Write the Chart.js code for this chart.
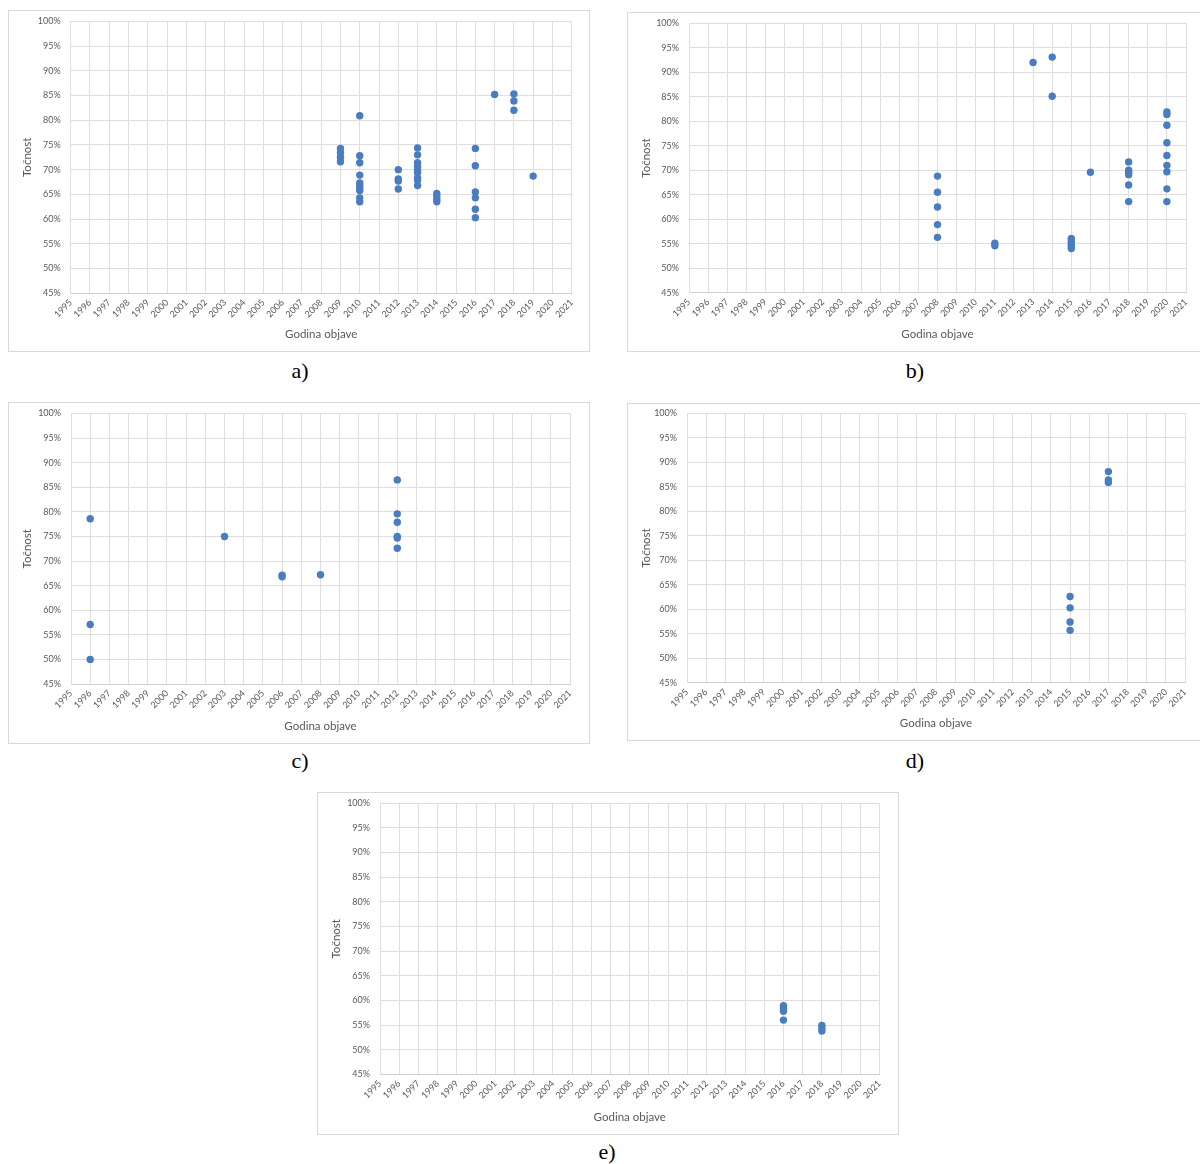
<!DOCTYPE html>
<html lang="hr">
<head>
<meta charset="UTF-8">
<title>Točnost po godini objave</title>
<style>
  body { margin: 0; background: #fff; width: 1200px; height: 1164px; position: relative; overflow: hidden; }
  .box { position: absolute; border: 1px solid #d9d9d9; box-sizing: border-box; }
  .box canvas { position: absolute; left: -1px; top: -1px; }
  .cap { position: absolute; width: 100px; text-align: center; font-family: "Liberation Serif", "Times New Roman", serif; font-size: 22px; color: #000; line-height: 24px; }
</style>
</head>
<body>
<div class="box" id="boxA"><canvas id="chartA"></canvas></div>
<div class="box" id="boxB"><canvas id="chartB"></canvas></div>
<div class="box" id="boxC"><canvas id="chartC"></canvas></div>
<div class="box" id="boxD"><canvas id="chartD"></canvas></div>
<div class="box" id="boxE"><canvas id="chartE"></canvas></div>
<div class="cap" style="left:250px; top:359px;">a)</div>
<div class="cap" style="left:865px; top:359px;">b)</div>
<div class="cap" style="left:250px; top:749px;">c)</div>
<div class="cap" style="left:865px; top:749px;">d)</div>
<div class="cap" style="left:557px; top:1140px;">e)</div>

<script src="https://cdn.jsdelivr.net/npm/chart.js@4.4.0/dist/chart.umd.min.js"></script>
<script>
    // tick labels shared by all five charts
    var yearTicks = [1995, 1996, 1997, 1998, 1999, 2000, 2001, 2002, 2003, 2004, 2005, 2006, 2007,
        2008, 2009, 2010, 2011, 2012, 2013, 2014, 2015, 2016, 2017, 2018, 2019, 2020, 2021];
    var pctTicks = [45, 50, 55, 60, 65, 70, 75, 80, 85, 90, 95, 100];

    // a)
    var yearsA = [2009, 2009, 2009, 2009,
        2010, 2010, 2010, 2010, 2010, 2010, 2010, 2010, 2010, 2010,
        2012, 2012, 2012, 2012,
        2013, 2013, 2013, 2013, 2013, 2013, 2013, 2013, 2013,
        2014, 2014, 2014, 2014,
        2016, 2016, 2016, 2016, 2016, 2016,
        2017, 2018, 2018, 2018, 2019];
    var accA = [74.3, 73.4, 72.5, 71.6,
        80.9, 72.8, 71.4, 68.9, 67.3, 66.8, 66.3, 65.8, 64.3, 63.5,
        70.0, 68.1, 67.7, 66.1,
        74.4, 73.0, 71.4, 70.6, 69.9, 69.4, 68.3, 67.9, 66.8,
        65.2, 64.6, 64.0, 63.5,
        74.3, 70.8, 65.5, 64.3, 62.0, 60.3,
        85.2, 85.3, 83.9, 82.0, 68.7];

    // b)
    var yearsB = [2008, 2008, 2008, 2008, 2008,
        2011, 2011, 2013, 2014, 2014,
        2015, 2015, 2015, 2015, 2015, 2016,
        2018, 2018, 2018, 2018, 2018, 2018,
        2020, 2020, 2020, 2020, 2020, 2020, 2020, 2020, 2020];
    var accB = [68.8, 65.5, 62.5, 58.9, 56.3,
        55.1, 54.6, 92.0, 93.1, 85.1,
        56.1, 55.5, 55.0, 54.5, 54.0, 69.6,
        71.7, 70.0, 69.6, 69.1, 67.0, 63.6,
        81.9, 81.4, 79.2, 75.6, 73.0, 71.0, 69.7, 66.2, 63.6];

    // c)
    var yearsC = [1996, 1996, 1996, 2003, 2006, 2006, 2008,
        2012, 2012, 2012, 2012, 2012, 2012];
    var accC = [78.6, 57.1, 50.0, 75.0, 67.1, 66.8, 67.2,
        86.5, 79.6, 77.9, 75.0, 74.7, 72.6];

    // d)
    var yearsD = [2015, 2015, 2015, 2015, 2017, 2017, 2017];
    var accD = [62.6, 60.3, 57.4, 55.7, 88.1, 86.4, 85.9];

    // e)
    var yearsE = [2016, 2016, 2016, 2016, 2018, 2018, 2018];
    var accE = [58.9, 58.4, 57.8, 56.0, 54.9, 54.4, 53.8];

    var dotColor = '#4a7dbf';
    var textColor = '#595959';
    var gridColor = '#dedede';
    var fontFamily = 'Lato, "Liberation Sans", sans-serif';

    // box = page position of the frame, plot = page position of the plot area
    function makeChart(id, xs, ys, box, plot) {
        var wrap = document.getElementById('box' + id);
        wrap.style.left = box.left + 'px';
        wrap.style.top = box.top + 'px';
        wrap.style.width = box.w + 'px';
        wrap.style.height = box.h + 'px';
        var canvas = document.getElementById('chart' + id);
        canvas.width = box.w;
        canvas.height = box.h;
        canvas.style.width = box.w + 'px';
        canvas.style.height = box.h + 'px';

        var points = xs.map(function (x, i) { return { x: x, y: ys[i] }; });

        return new Chart(canvas, {
            type: 'scatter',
            data: {
                datasets: [{
                    data: points,
                    backgroundColor: dotColor,
                    borderColor: dotColor,
                    borderWidth: 0,
                    pointRadius: 3.7,
                    pointHoverRadius: 3.7
                }]
            },
            options: {
                responsive: false,
                animation: false,
                events: [],
                layout: {
                    padding: { left: 0, top: plot.t - box.top, right: box.left + box.w - plot.r, bottom: 0 }
                },
                plugins: { legend: { display: false }, tooltip: { enabled: false } },
                scales: {
                    x: {
                        type: 'linear',
                        min: 1995,
                        max: 2021,
                        afterBuildTicks: function (axis) {
                            axis.ticks = yearTicks.map(function (v) { return { value: v }; });
                        },
                        afterFit: function (scale) { scale.height = box.top + box.h - plot.b; },
                        grid: { color: gridColor, drawTicks: false },
                        border: { color: '#d0d0d0' },
                        ticks: {
                            autoSkip: false,
                            minRotation: 45,
                            maxRotation: 45,
                            padding: 4,
                            color: textColor,
                            font: { family: fontFamily, size: 9 },
                            callback: function (v) { return String(v); }
                        },
                        title: {
                            display: true,
                            text: 'Godina objave',
                            color: textColor,
                            font: { family: fontFamily, size: 11.5 },
                            padding: { top: 0, bottom: 11 }
                        }
                    },
                    y: {
                        min: 45,
                        max: 100,
                        afterBuildTicks: function (axis) {
                            axis.ticks = pctTicks.map(function (v) { return { value: v }; });
                        },
                        afterFit: function (scale) {
                            scale.width = plot.l - box.left;
                            // tick padding would otherwise push the plot top down
                            scale.paddingTop = 0;
                            scale.paddingBottom = 0;
                        },
                        grid: { color: gridColor, drawTicks: false },
                        border: { color: gridColor },
                        ticks: {
                            padding: 10,
                            color: textColor,
                            font: { family: fontFamily, size: 9 },
                            callback: function (v) { return v + '%'; }
                        },
                        title: {
                            display: true,
                            text: 'Točnost',
                            color: textColor,
                            font: { family: fontFamily, size: 11.5 },
                            padding: { top: 12, bottom: 0 }
                        }
                    }
                }
            }
        });
    }

    makeChart('A', yearsA, accA, { left: 8, top: 10, w: 582, h: 342 }, { l: 70.7, t: 21.3, r: 571.7, b: 293.3 });
    makeChart('B', yearsB, accB, { left: 627, top: 12, w: 574, h: 340 }, { l: 689, t: 23.3, r: 1186, b: 292.7 });
    makeChart('C', yearsC, accC, { left: 8, top: 402, w: 582, h: 342 }, { l: 71, t: 413.5, r: 570, b: 684 });
    makeChart('D', yearsD, accD, { left: 627, top: 403, w: 574, h: 338 }, { l: 687, t: 413.3, r: 1185, b: 682.8 });
    makeChart('E', yearsE, accE, { left: 317, top: 792, w: 582, h: 343 }, { l: 380, t: 803.3, r: 879.5, b: 1074.3 });
</script>
</body>
</html>
